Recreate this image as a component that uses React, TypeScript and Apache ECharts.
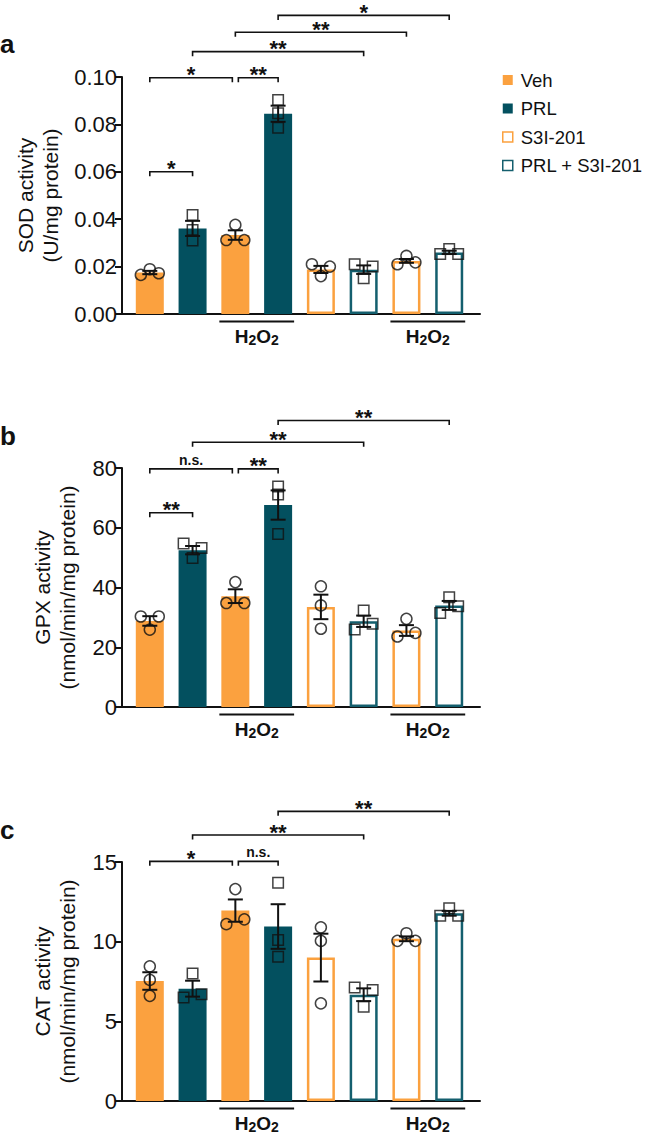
import React, { useEffect, useRef } from 'react';
import * as echarts from 'echarts';

const FONT = "'Liberation Sans', Arial, Helvetica, sans-serif";
const ORANGE = '#FBA13F';
const TEAL = '#03505F';
const TEAL_LINE = '#145F6E';
const INK = '#111111';

const groupNames = ['Veh', 'PRL', 'S3I-201', 'PRL + S3I-201'];
// which legend group each of the 8 bars belongs to
const barGroup = [0, 1, 0, 1, 2, 3, 2, 3];
// bars that were treated with H2O2
const h2o2Pairs = [[2, 3], [6, 7]];

// ---- Panel a: SOD ----
const sodMean = [0.0175, 0.0361, 0.0333, 0.0845, 0.0188, 0.0187, 0.0224, 0.026];
const sodSem = [0.0007, 0.0032, 0.002, 0.0034, 0.0015, 0.0018, 0.0008, 0.0007];
const sodPoints = [
  [0.0165, 0.0189, 0.0172],
  [0.0418, 0.0354, 0.031],
  [0.0312, 0.0376, 0.0312],
  [0.0903, 0.0847, 0.0786],
  [0.021, 0.016, 0.02],
  [0.021, 0.0151, 0.02],
  [0.021, 0.0245, 0.0218],
  [0.0253, 0.0274, 0.0253],
];
const sodJitter = [[-1, 0, 1], [0, 0, 0], [-1, 0, 1], [0, 0, 0], [-1, 0, 1], [-1, 0, 1], [-1, 0, 1], [-1, 0, 1]];
const sodTicks = [0, 0.02, 0.04, 0.06, 0.08, 0.1];
const sodBrackets: [number, number, number, string][] = [
  [0, 1, 0.06, '*'],
  [0, 2, 0.0997, '*'],
  [2, 3, 0.0997, '**'],
  [1, 5, 0.1107, '**'],
  [2, 6, 0.1189, '**'],
  [3, 7, 0.126, '*'],
];

// ---- Panel b: GPX ----
const gpxMean = [28.8, 52.5, 37.1, 67.6, 33.5, 28.7, 25.6, 34.0];
const gpxSem = [1.6, 1.4, 2.3, 4.9, 4.1, 1.9, 1.8, 1.5];
const gpxPoints = [
  [30.3, 25.9, 30.3],
  [54.7, 49.9, 53.2],
  [34.8, 41.8, 34.8],
  [73.8, 71.1, 57.9],
  [40.4, 34.0, 26.2],
  [25.9, 32.3, 27.9],
  [23.6, 29.5, 24.8],
  [31.5, 36.7, 33.7],
];
const gpxJitter = [[-1, 0, 1], [-1, 0, 1], [-1, 0, 1], [0, 0, 0], [0, 0, 0], [-1, 0, 1], [-1, 0, 1], [-1, 0, 1]];
const gpxTicks = [0, 20, 40, 60, 80];
const gpxBrackets: [number, number, number, string][] = [
  [0, 1, 65.0, '**'],
  [0, 2, 79.7, 'n.s.'],
  [2, 3, 79.7, '**'],
  [1, 5, 88.6, '**'],
  [3, 7, 95.9, '**'],
];

// ---- Panel c: CAT ----
const catMean = [7.53, 7.05, 11.95, 10.95, 9.0, 6.67, 10.18, 11.78];
const catSem = [0.55, 0.5, 0.7, 1.4, 1.5, 0.4, 0.15, 0.15];
const catPoints = [
  [8.45, 7.6, 6.6],
  [6.5, 8.0, 6.7],
  [11.1, 13.3, 11.4],
  [13.7, 10.1, 9.06],
  [10.9, 10.05, 6.13],
  [7.13, 5.92, 6.97],
  [10.05, 10.53, 10.05],
  [11.62, 12.1, 11.62],
];
const catJitter = [[0, 0, 0], [-1, 0, 1], [-1, 0, 1], [0, 0, 0], [0, 0, 0], [-1, 0, 1], [-1, 0, 1], [-1, 0, 1]];
const catTicks = [0, 5, 10, 15];
const catBrackets: [number, number, number, string][] = [
  [0, 2, 15.04, '*'],
  [2, 3, 15.04, 'n.s.'],
  [1, 5, 16.69, '**'],
  [3, 7, 18.18, '**'],
];

const panels = [
  { letter: 'a', title: 'SOD activity\n(U/mg protein)', mean: sodMean, sem: sodSem, points: sodPoints, jitter: sodJitter, ticks: sodTicks, brackets: sodBrackets, decimals: 2, top: 77, height: 237, nameGap: 57, letterY: 46 },
  { letter: 'b', title: 'GPX activity\n(nmol/min/mg protein)', mean: gpxMean, sem: gpxSem, points: gpxPoints, jitter: gpxJitter, ticks: gpxTicks, brackets: gpxBrackets, decimals: 0, top: 468, height: 239, nameGap: 42, letterY: 438 },
  { letter: 'c', title: 'CAT activity\n(nmol/min/mg protein)', mean: catMean, sem: catSem, points: catPoints, jitter: catJitter, ticks: catTicks, brackets: catBrackets, decimals: 0, top: 862, height: 239, nameGap: 42, letterY: 832 },
];

function buildOption() {
  const grid: any[] = [];
  const xAxis: any[] = [];
  const yAxis: any[] = [];
  const series: any[] = [];
  const graphic: any[] = [];

  panels.forEach((pn, p) => {
    grid.push({ left: 122, right: 166, top: pn.top, height: pn.height, containLabel: false });
    xAxis.push({
      type: 'value', gridIndex: p, min: -0.65, max: 7.72,
      axisLine: { show: true, onZero: false, lineStyle: { color: INK, width: 2 } },
      axisTick: { show: false }, axisLabel: { show: false }, splitLine: { show: false },
    });
    const t = pn.ticks;
    yAxis.push({
      type: 'value', gridIndex: p, min: t[0], max: t[t.length - 1], interval: t[1] - t[0],
      name: pn.title, nameLocation: 'middle', nameRotate: 90, nameGap: pn.nameGap,
      nameTextStyle: { fontSize: 21, lineHeight: 25, color: INK, fontFamily: FONT },
      axisLine: { show: true, onZero: false, lineStyle: { color: INK, width: 2 } },
      axisTick: { show: true, length: 7, lineStyle: { color: INK, width: 2 } },
      axisLabel: { fontSize: 22, color: INK, fontFamily: FONT, margin: 5, formatter: (v: number) => v.toFixed(pn.decimals) },
      splitLine: { show: false },
    });
    const axis = { xAxisIndex: p, yAxisIndex: p };

    groupNames.forEach((g, gi) => {
      const open = gi >= 2;
      const color = gi % 2 === 0 ? ORANGE : TEAL;
      const data: number[][] = [];
      pn.mean.forEach((m, i) => { if (barGroup[i] === gi) data.push([i, m]); });
      series.push({
        type: 'bar', name: g, ...axis, barWidth: 28, barGap: '-100%', silent: true, z: 2,
        data,
        itemStyle: open ? { color: '#ffffff', borderColor: gi === 2 ? ORANGE : TEAL_LINE, borderWidth: 2.5 } : { color },
      });
    });

    // error bars
    series.push({
      type: 'custom', ...axis, z: 4, silent: true, clip: false,
      data: pn.mean.map((m, i) => [i, m, pn.sem[i]]),
      renderItem: (params: any, api: any) => {
        const i = api.value(0), m = api.value(1), s = api.value(2);
        const top = api.coord([i, m + s]);
        const bot = api.coord([i, m - s]);
        const x = top[0];
        const st = { stroke: INK, lineWidth: 2 };
        return {
          type: 'group', children: [
            { type: 'line', shape: { x1: x, y1: top[1], x2: x, y2: bot[1] }, style: st },
            { type: 'line', shape: { x1: x - 7.5, y1: top[1], x2: x + 7.5, y2: top[1] }, style: st },
            { type: 'line', shape: { x1: x - 7.5, y1: bot[1], x2: x + 7.5, y2: bot[1] }, style: st },
          ],
        };
      },
    });

    // individual points
    const circ: number[][] = [];
    const sq: number[][] = [];
    pn.points.forEach((arr, i) => arr.forEach((v, k) => {
      const pt = [i + pn.jitter[i][k] * 0.21, v];
      (i % 2 === 0 ? circ : sq).push(pt);
    }));
    const ptStyle = { color: 'rgba(0,0,0,0)', borderColor: INK, borderWidth: 1.5 };
    series.push({ type: 'scatter', ...axis, symbol: 'circle', symbolSize: 11, data: circ, itemStyle: ptStyle, z: 5, silent: true });
    series.push({ type: 'scatter', ...axis, symbol: 'rect', symbolSize: 10.5, data: sq, itemStyle: ptStyle, z: 5, silent: true });

    // significance brackets
    const br = pn.brackets;
    series.push({
      type: 'custom', ...axis, z: 6, silent: true, clip: false,
      data: br.map((b) => [b[0], b[1], b[2]]),
      renderItem: (params: any, api: any) => {
        const b = br[params.dataIndex];
        const leftInset = br.some((o) => o !== b && o[2] === b[2] && o[1] === b[0]) ? 3 : 0;
        const rightInset = br.some((o) => o !== b && o[2] === b[2] && o[0] === b[1]) ? 3 : 0;
        const p1 = api.coord([b[0], b[2]]);
        const p2 = api.coord([b[1], b[2]]);
        const x1 = p1[0] + leftInset, x2 = p2[0] - rightInset, y = p1[1];
        const isNs = b[3] === 'n.s.';
        return {
          type: 'group', children: [
            { type: 'polyline', shape: { points: [[x1, y + 4.5], [x1, y], [x2, y], [x2, y + 4.5]] }, style: { stroke: INK, lineWidth: 1.6, fill: null } },
            {
              type: 'text', x: (x1 + x2) / 2, y: isNs ? y - 1.5 : y - 3,
              style: {
                text: b[3], fill: INK, fontFamily: FONT, fontWeight: 'bold',
                fontSize: isNs ? 14 : 22, lineHeight: isNs ? 15 : 12,
                align: 'center', verticalAlign: isNs ? 'bottom' : 'middle',
              },
            },
          ],
        };
      },
    });

    // H2O2 group labels under the axis
    series.push({
      type: 'custom', ...axis, z: 6, silent: true, clip: false,
      data: h2o2Pairs.map((q) => [q[0], q[1], 0]),
      renderItem: (params: any, api: any) => {
        const a = api.coord([api.value(0), 0]);
        const b = api.coord([api.value(1), 0]);
        const xl = a[0] - 16, xr = b[0] + 16, y0 = a[1];
        return {
          type: 'group', children: [
            { type: 'line', shape: { x1: xl, y1: y0 + 7.5, x2: xr, y2: y0 + 7.5 }, style: { stroke: INK, lineWidth: 2 } },
            {
              type: 'text', x: (xl + xr) / 2, y: y0 + 22,
              style: {
                text: '{b|H}{s|2}{b|O}{s|2}', align: 'center', verticalAlign: 'middle', fill: INK,
                rich: {
                  b: { fontSize: 19, fontWeight: 'bold', fontFamily: FONT, fill: INK, lineHeight: 22, verticalAlign: 'middle' },
                  s: { fontSize: 14, fontWeight: 'bold', fontFamily: FONT, fill: INK, lineHeight: 14, verticalAlign: 'bottom' },
                },
              },
            },
          ],
        };
      },
    });

    graphic.push({
      type: 'text', left: 0, top: pn.letterY - 15,
      style: { text: pn.letter, fontSize: 26, fontWeight: 'bold', fontFamily: FONT, fill: INK },
    });
  });

  return {
    animation: false,
    backgroundColor: '#ffffff',
    grid, xAxis, yAxis, series, graphic,
    legend: {
      orient: 'vertical', left: 502, top: 70, padding: 0, itemWidth: 10, itemHeight: 10, itemGap: 8.5, selectedMode: false,
      textStyle: { fontSize: 18.5, color: INK, fontFamily: FONT, lineHeight: 20, padding: [0, 0, 0, 3] },
      data: [
        { name: 'Veh', icon: 'rect', itemStyle: { color: ORANGE, borderWidth: 0 } },
        { name: 'PRL', icon: 'rect', itemStyle: { color: TEAL, borderWidth: 0 } },
        { name: 'S3I-201', icon: 'rect', itemStyle: { color: '#ffffff', borderColor: ORANGE, borderWidth: 1.5 } },
        { name: 'PRL + S3I-201', icon: 'rect', itemStyle: { color: '#ffffff', borderColor: TEAL_LINE, borderWidth: 1.5 } },
      ],
    },
  };
}

export default function App() {
  const ref = useRef<HTMLDivElement>(null);
  useEffect(() => {
    if (!ref.current) return;
    const chart = echarts.init(ref.current, undefined, { renderer: 'svg' });
    chart.setOption(buildOption() as any);
    return () => chart.dispose();
  }, []);
  return <div ref={ref} style={{ position: 'fixed', left: 0, top: 0, width: 646, height: 1137, background: '#fff' }} />;
}
